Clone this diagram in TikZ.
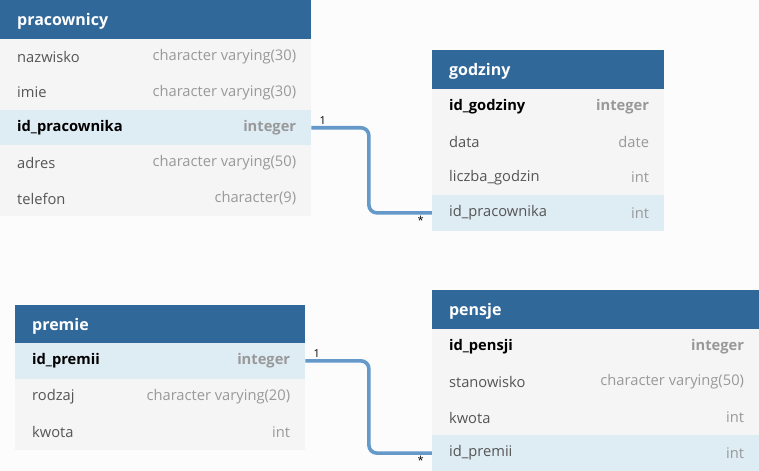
\documentclass[tikz,border=0pt]{standalone}
\usepackage{fontspec}
\setmainfont{Open Sans}
\usetikzlibrary{positioning}
\definecolor{hdrblue}{HTML}{31689A}
\definecolor{rowgray}{HTML}{F5F5F5}
\definecolor{keyblue}{HTML}{DEECF4}
\definecolor{pagebg}{HTML}{FCFCFD}
\definecolor{namegray}{HTML}{555555}
\definecolor{typegray}{HTML}{999999}
\definecolor{linkblue}{HTML}{6499C9}
\tikzset{
  hdrbox/.style={fill=hdrblue, anchor=north west, inner sep=0pt, minimum height=38.5pt},
  hdrtext/.style={anchor=west, inner sep=0pt, text=white, font=\fontsize{16}{18}\selectfont\bfseries},
  row0/.style={fill=rowgray, anchor=north west, inner sep=0pt, minimum height=35.5pt},
  row1/.style={row0, fill=keyblue},
  name0/.style={anchor=west, inner sep=0pt, text=namegray, font=\fontsize{14.7}{16}\selectfont},
  name1/.style={name0, text=black, font=\fontsize{14.7}{16}\selectfont\bfseries},
  type0/.style={anchor=east, inner sep=0pt, text=typegray, font=\fontsize{14.7}{16}\selectfont},
  type1/.style={type0, font=\fontsize{14.7}{16}\selectfont\bfseries},
  link/.style={draw=linkblue, line width=3.6pt, rounded corners=8pt},
  card/.style={inner sep=0pt, font=\fontsize{11}{12}\selectfont}
}
\begin{document}
\begin{tikzpicture}[x=1pt,y=-1pt]
\def\pad{17}
\fill[pagebg] (0,0) rectangle (759,471);
% pracownicy
\def\w{311}
\node[hdrbox, minimum width=\w pt] (prac) at (0,0) {};
\node[hdrtext] at ([xshift=\pad pt,yshift=-2pt]prac.west) {pracownicy};
\foreach \n/\t/\b/\h [count=\i] in {nazwisko/character varying(30)/0/0,
    imie/character varying(30)/0/0, id\_pracownika/integer/1/1,
    adres/character varying(50)/0/0, telefon/character(9)/0/0} {
  \node[row\h, minimum width=\w pt] (prac-\i) at (0,{39+35.4*(\i-1)}) {};
  \node[name\b] at ([xshift=\pad pt]prac-\i.west) {\n};
  \node[type\b] at ([xshift=-15pt]prac-\i.east) {\t};
}
% godziny
\def\w{232}
\node[hdrbox, minimum width=\w pt] (godz) at (432,50) {};
\node[hdrtext] at ([xshift=\pad pt,yshift=-2pt]godz.west) {godziny};
\foreach \n/\t/\b/\h [count=\i] in {id\_godziny/integer/1/0, data/date/0/0,
    liczba\_godzin/int/0/0, id\_pracownika/int/0/1} {
  \node[row\h, minimum width=\w pt] (godz-\i) at (432,{88.5+35.5*(\i-1)}) {};
  \node[name\b] at ([xshift=\pad pt]godz-\i.west) {\n};
  \node[type\b] at ([xshift=-15pt]godz-\i.east) {\t};
}
% premie
\def\w{290}
\node[hdrbox, minimum width=\w pt] (prem) at (15,304.5) {};
\node[hdrtext] at ([xshift=\pad pt,yshift=-2pt]prem.west) {premie};
\foreach \n/\t/\b/\h [count=\i] in {id\_premii/integer/1/1,
    rodzaj/character varying(20)/0/0, kwota/int/0/0} {
  \node[row\h, minimum width=\w pt] (prem-\i) at (15,{343+35.5*(\i-1)}) {};
  \node[name\b] at ([xshift=\pad pt]prem-\i.west) {\n};
  \node[type\b] at ([xshift=-15pt]prem-\i.east) {\t};
}
% pensje
\def\w{327}
\node[hdrbox, minimum width=\w pt] (pens) at (432,290) {};
\node[hdrtext] at ([xshift=\pad pt,yshift=-2pt]pens.west) {pensje};
\foreach \n/\t/\b/\h [count=\i] in {id\_pensji/integer/1/0,
    stanowisko/character varying(50)/0/0, kwota/int/0/0, id\_premii/int/0/1} {
  \node[row\h, minimum width=\w pt] (pens-\i) at (432,{328.5+35.6*(\i-1)}) {};
  \node[name\b] at ([xshift=\pad pt]pens-\i.west) {\n};
  \node[type\b] at ([xshift=-15pt]pens-\i.east) {\t};
}
% relations
\draw[link] (prac-3.east) -| (369,0 |- godz-4.west) -- (godz-4.west);
\node[card, anchor=south west] at ([xshift=8pt,yshift=3pt]prac-3.east) {1};
\node[card, anchor=north east] at ([xshift=-8pt,yshift=-3pt]godz-4.west) {*};
\draw[link] (prem-1.east) -| (369,0 |- pens-4.west) -- (pens-4.west);
\node[card, anchor=south west] at ([xshift=8pt,yshift=3pt]prem-1.east) {1};
\node[card, anchor=north east] at ([xshift=-8pt,yshift=-3pt]pens-4.west) {*};
\end{tikzpicture}
\end{document}
